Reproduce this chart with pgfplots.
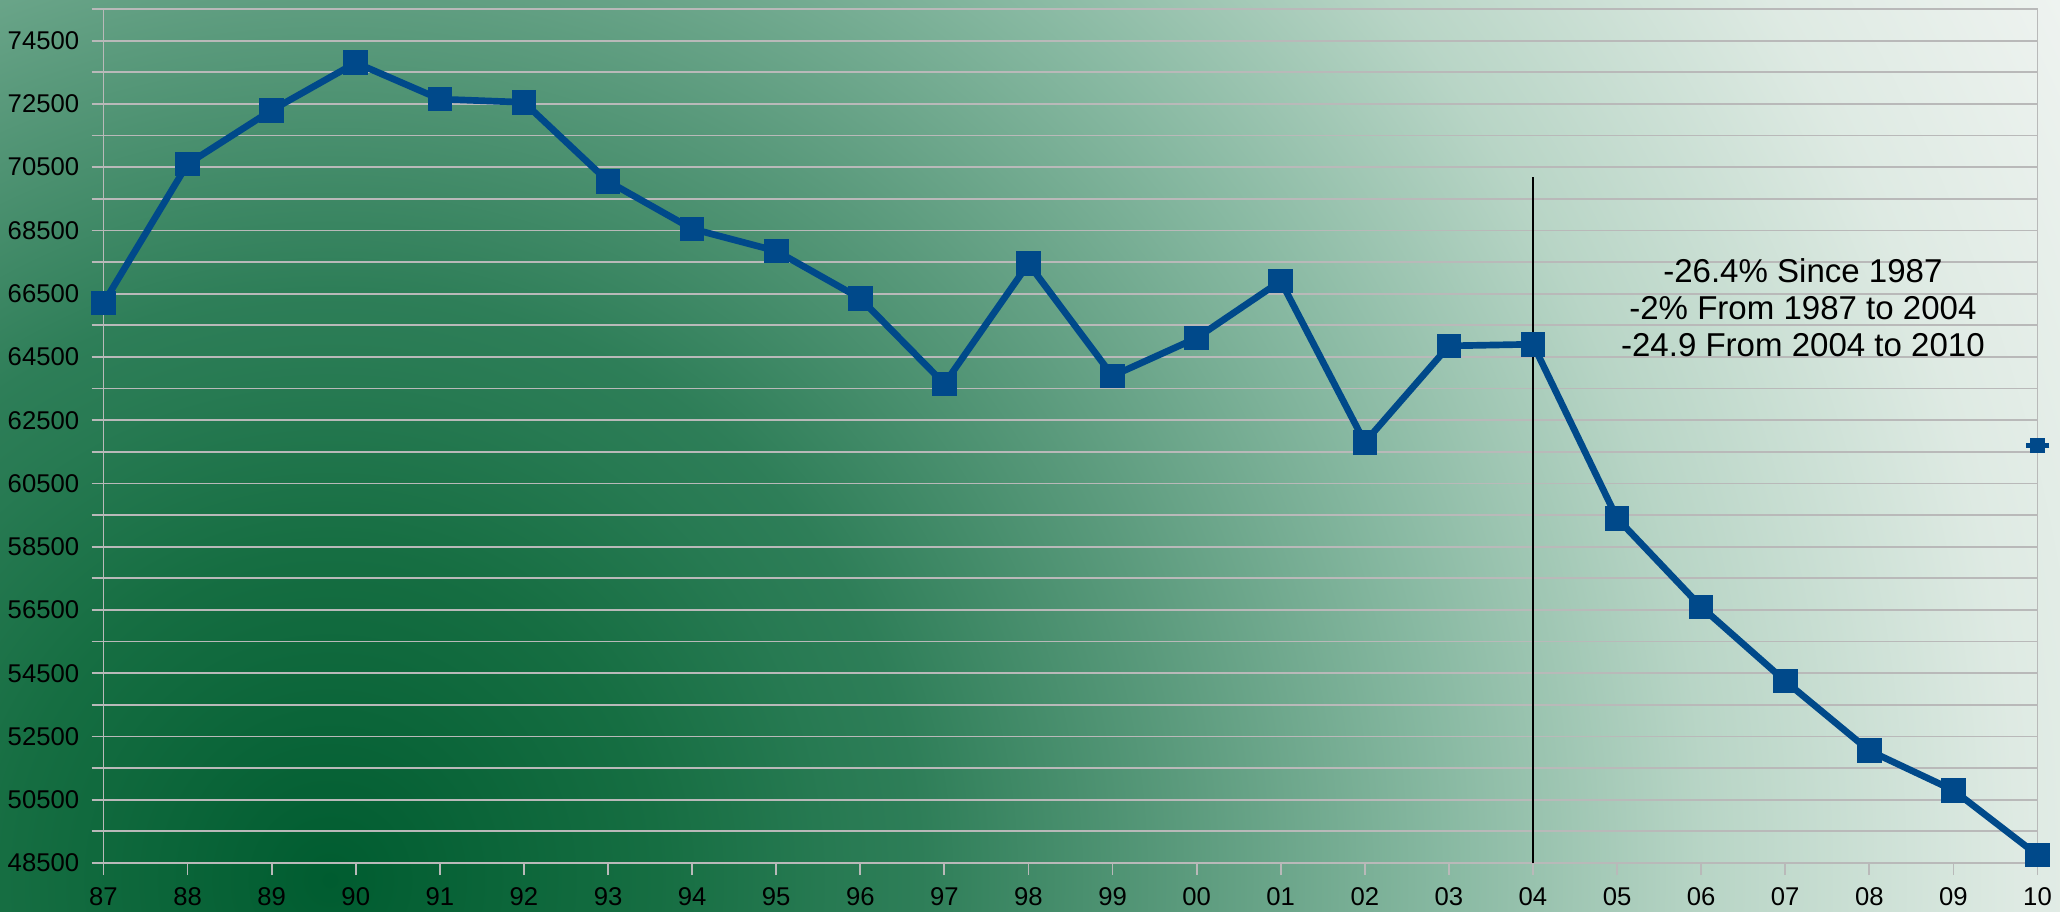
\documentclass[border=0pt]{standalone}
\usepackage{pgfplots}
\pgfplotsset{compat=1.18}
\usepackage{fontspec}
\setmainfont{Liberation Sans}
\definecolor{lineblue}{RGB}{0,73,138}
\definecolor{gridgray}{RGB}{185,185,185}
\pgfdeclareradialshading{bgshade}{\pgfpoint{0bp}{0bp}}{%
rgb(0bp)=(0,.361,.188);
rgb(4.09bp)=(.086,.431,.259);
rgb(6.25bp)=(.153,.478,.322);
rgb(7.375bp)=(.180,.494,.345);
rgb(10.625bp)=(.353,.604,.486);
rgb(13.94bp)=(.533,.725,.635);
rgb(17.2bp)=(.722,.835,.776);
rgb(21.1bp)=(.871,.918,.890);
rgb(25bp)=(.949,.961,.953);
rgb(50bp)=(.949,.961,.953)}
\begin{document}
\begin{tikzpicture}
\useasboundingbox (0,0) rectangle (20.6,9.11);
\begin{scope}
\clip (0,0) rectangle (20.6,9.11);
\shade[shading=bgshade] (3.3,0.31) circle (20cm);
\end{scope}
\begin{axis}[
  at={(1.035cm,0.48cm)}, anchor=south west,
  scale only axis, width=19.34cm, height=8.54cm,
  xmin=0, xmax=23, ymin=48500, ymax=75500,
  xtick={0,...,23},
  xticklabels={87,88,89,90,91,92,93,94,95,96,97,98,99,00,01,02,03,04,05,06,07,08,09,10},
  ytick={48500,50500,52500,54500,56500,58500,60500,62500,64500,66500,68500,70500,72500,74500},
  yticklabels={48500,50500,52500,54500,56500,58500,60500,62500,64500,66500,68500,70500,72500,74500},
  minor ytick={49500,51500,53500,55500,57500,59500,61500,63500,65500,67500,69500,71500,73500,75500},
  scaled y ticks=false,
  ymajorgrids, yminorgrids,
  grid style={gridgray, line width=0.5pt},
  minor grid style={gridgray, line width=0.5pt},
  axis line style={gridgray, line width=0.5pt},
  tick align=outside, major tick length=0.12cm, minor tick length=0.12cm,
  tick style={gridgray, line width=0.5pt},
  xtick pos=lower, ytick pos=left,
  tick label style={font=\fontsize{7.3}{8}\selectfont, black},
  clip=false,
]
\addplot[black, line width=0.35pt, forget plot] coordinates {(17,48500) (17,70190)};
\addplot[lineblue, line width=1.9pt, mark=square*, mark size=3.3pt,
  mark options={fill=lineblue, draw=lineblue, line width=0.4pt}] coordinates {
(0,66200) (1,70600) (2,72300) (3,73800) (4,72650) (5,72550) (6,70050)
(7,68550) (8,67850) (9,66350) (10,63650) (11,67450) (12,63900) (13,65100)
(14,66900) (15,61800) (16,64850) (17,64900) (18,59400) (19,56600) (20,54250)
(21,52050) (22,50800) (23,48750)};
\addplot[only marks, lineblue, mark=-, mark size=3.4pt, mark options={line width=1.4pt}] coordinates {(23,61700)};
\addplot[only marks, lineblue, mark=square*, mark size=1.85pt, mark options={fill=lineblue, draw=lineblue}] coordinates {(23,61700)};
\node[align=center, font=\fontsize{9.4}{10.6}\selectfont, anchor=center, inner sep=0pt]
  at (axis cs:20.21,66050) {-26.4\% Since 1987\\-2\% From 1987 to 2004\\-24.9 From 2004 to 2010};
\end{axis}
\end{tikzpicture}
\end{document}
